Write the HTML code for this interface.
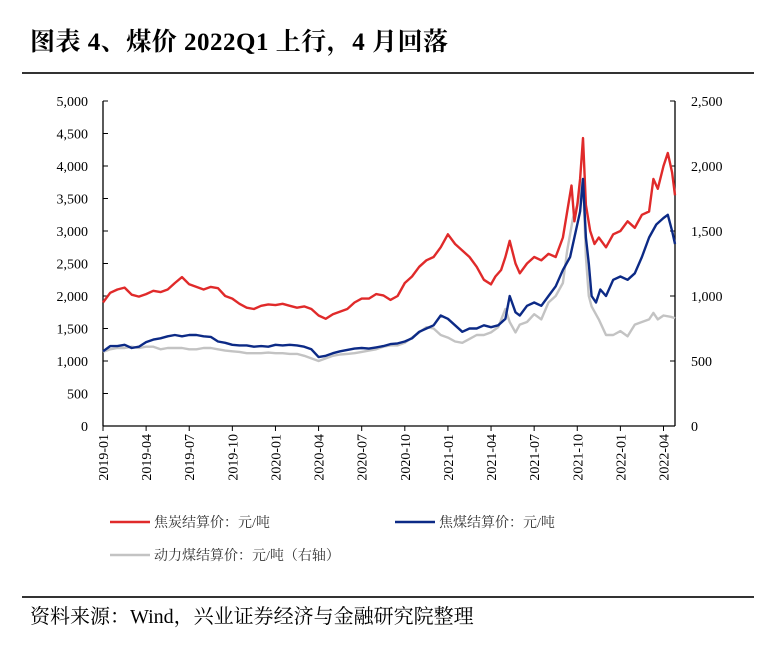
<!DOCTYPE html>
<html><head><meta charset="utf-8">
<style>
body{margin:0;background:#fff;width:779px;height:659px;overflow:hidden;position:relative;font-family:"Liberation Serif","Noto Serif CJK SC",serif;}
.title{position:absolute;left:30px;top:22px;font-size:25px;font-weight:bold;color:#000;letter-spacing:0.5px}
.rule{position:absolute;left:22px;width:732px;height:2px;background:#333}
.src{position:absolute;left:30px;top:600px;font-size:20px;color:#000}
</style></head><body>
<div class="title">图表 4、煤价 2022Q1 上行，4 月回落</div>
<div class="rule" style="top:72px"></div>
<div class="rule" style="top:596px;height:1.5px"></div>
<div class="src">资料来源：Wind，兴业证券经济与金融研究院整理</div>
<svg id="chart" width="779" height="659" style="position:absolute;left:0;top:0"></svg>
<script>
const tickLabels=["2019-01","2019-04","2019-07","2019-10","2020-01","2020-04","2020-07","2020-10","2021-01","2021-04","2021-07","2021-10","2022-01","2022-04"];
const leftTicks=[0,500,1000,1500,2000,2500,3000,3500,4000,4500,5000];
const rightTicks=[0,500,1000,1500,2000,2500];
const tHead=[0,0.5,1,1.5,2,2.5,3,3.5,4,4.5,5,5.5,6,6.5,7,7.5,8,8.5,9,9.5,10,10.5,11,11.5,12,12.5,13,13.5,14,14.5,15,15.5,16,16.5,17,17.5,18,18.5,19,19.5,20,20.5,21,21.5,22,22.5,23,23.5,24,24.5,25,25.5,26,26.5];
const cokeHead=[1900,2050,2100,2130,2020,1990,2030,2080,2060,2100,2200,2290,2180,2140,2100,2140,2120,2000,1960,1880,1820,1800,1850,1870,1860,1880,1850,1820,1840,1800,1700,1650,1720,1760,1800,1900,1960,1960,2030,2010,1940,2000,2200,2300,2450,2550,2600,2750,2950,2800,2700,2600,2450,2250];
const tCokeTail=[27,27.3,27.7,28,28.3,28.7,29,29.5,30,30.5,31,31.5,32,32.3,32.6,32.8,33,33.2,33.4,33.6,33.9,34.2,34.5,35,35.5,36,36.5,37,37.5,38,38.3,38.6,39,39.3,39.6,39.8];
const cokeTail=[2180,2300,2400,2600,2850,2500,2350,2500,2600,2550,2650,2600,2900,3300,3700,3150,3400,3800,4430,3400,3000,2800,2900,2750,2950,3000,3150,3050,3250,3300,3800,3650,4000,4200,3900,3550];
const coalHead=[1150,1230,1230,1250,1200,1220,1290,1330,1350,1380,1400,1380,1400,1400,1380,1370,1300,1280,1250,1240,1240,1220,1230,1220,1250,1240,1250,1240,1220,1180,1060,1080,1120,1150,1170,1190,1200,1190,1210,1230,1260,1270,1300,1350,1450,1500,1550,1700,1650,1550,1450,1500,1500,1550];
const tCoalTail=[27,27.5,28,28.3,28.7,29,29.5,30,30.5,31,31.5,32,32.5,32.8,33.2,33.4,33.6,33.8,34,34.3,34.6,35,35.5,36,36.5,37,37.5,38,38.5,39,39.3,39.6,39.8];
const coalTail=[1520,1550,1650,2000,1750,1700,1850,1900,1850,2000,2150,2400,2600,2900,3300,3800,2900,2500,2000,1900,2100,2000,2250,2300,2250,2350,2600,2900,3100,3200,3250,3000,2800];
const thermalHead=[570,590,600,600,610,600,610,610,590,600,600,600,590,590,600,600,590,580,575,570,560,560,560,565,560,560,555,555,540,520,500,520,540,550,555,560,570,580,590,610,620,620,640,680,720,760,750,700,680,650,640,670,700,700];
const tThermalTail=[27,27.5,28,28.3,28.7,29,29.5,30,30.5,31,31.5,32,32.3,32.7,33,33.4,33.6,33.8,34,34.5,35,35.5,36,36.5,37,37.5,38,38.3,38.6,39,39.5,39.8];
const thermalTail=[720,760,900,800,720,780,800,860,820,950,1000,1100,1350,1600,1700,1900,1300,1000,920,820,700,700,730,690,780,800,820,870,820,850,840,830];
const svg=document.getElementById('chart');const NS='http://www.w3.org/2000/svg';
const X0=103,X1=675,Y0=426,YT=101,TMAX=39.8;
const xs=t=>X0+(X1-X0)*t/TMAX;
const yl=v=>Y0-(Y0-YT)*v/5000;
const yr=v=>Y0-(Y0-YT)*v/2500;
function mk(tag,at){const e=document.createElementNS(NS,tag);for(const k in at)e.setAttribute(k,at[k]);svg.appendChild(e);return e;}
let e;
e=mk('line',{x1:X0,y1:YT,x2:X0,y2:Y0,stroke:'#000','stroke-width':1.3});


e=mk('line',{x1:X1,y1:YT,x2:X1,y2:Y0,stroke:'#000','stroke-width':1.3});


e=mk('line',{x1:X0,y1:Y0,x2:X1,y2:Y0,stroke:'#000','stroke-width':1.3});


leftTicks.forEach(v=>{mk('line',{x1:X0,y1:yl(v),x2:X0+5,y2:yl(v),stroke:'#000'});
 e=mk('text',{x:X0-15,y:yl(v)+5,'text-anchor':'end','font-size':14,'font-family':'Liberation Serif, serif'});e.textContent=v.toLocaleString('en-US');
 
 });
rightTicks.forEach(v=>{mk('line',{x1:X1-5,y1:yr(v),x2:X1,y2:yr(v),stroke:'#000'});
 e=mk('text',{x:X1+16,y:yr(v)+5,'font-size':14,'font-family':'Liberation Serif, serif'});e.textContent=v.toLocaleString('en-US');
 
 });
tickLabels.forEach((s,i)=>{const x=xs(i*3);mk('line',{x1:x,y1:Y0,x2:x,y2:Y0+5,stroke:'#000'});
 e=mk('text',{x:0,y:0,'text-anchor':'end','font-size':14,'font-family':'Liberation Serif, serif',transform:`translate(${x+5},${Y0+8}) rotate(-90)`});e.textContent=s;
 
 });
function series(ts,vs,yf,col,name){const n=Math.min(ts.length,vs.length);let d='';for(let i=0;i<n;i++)d+=(i?'L':'M')+xs(ts[i]).toFixed(1)+','+yf(vs[i]).toFixed(1);
 const p=mk('path',{d:d,fill:'none',stroke:col,'stroke-width':2.4,'stroke-linejoin':'round'});
 
 }
series(tHead.concat(tThermalTail),thermalHead.concat(thermalTail),yr,'#c3c3c3','thermal-coal-line');
series(tHead.concat(tCokeTail),cokeHead.concat(cokeTail),yl,'#e02a2a','coke-line');
series(tHead.concat(tCoalTail),coalHead.concat(coalTail),yl,'#0c2a86','coking-coal-line');
const leg=[[110,527,'#e02a2a','焦炭结算价：元/吨','legend-coke'],[395,527,'#0c2a86','焦煤结算价：元/吨','legend-coking-coal'],[110,560,'#c3c3c3','动力煤结算价：元/吨（右轴）','legend-thermal-coal']];
leg.forEach(l=>{const g=mk('g',{});
 
 
 const ln=document.createElementNS(NS,'line');ln.setAttribute('x1',l[0]);ln.setAttribute('x2',l[0]+40);ln.setAttribute('y1',l[1]-5);ln.setAttribute('y2',l[1]-5);ln.setAttribute('stroke',l[2]);ln.setAttribute('stroke-width',2.5);g.appendChild(ln);
 const tx=document.createElementNS(NS,'text');tx.setAttribute('x',l[0]+44);tx.setAttribute('y',l[1]);tx.setAttribute('font-size',14);tx.setAttribute('fill','#333');tx.setAttribute('font-family','Liberation Serif, Noto Serif CJK SC, serif');tx.textContent=l[3];g.appendChild(tx);});
</script>
</body></html>
